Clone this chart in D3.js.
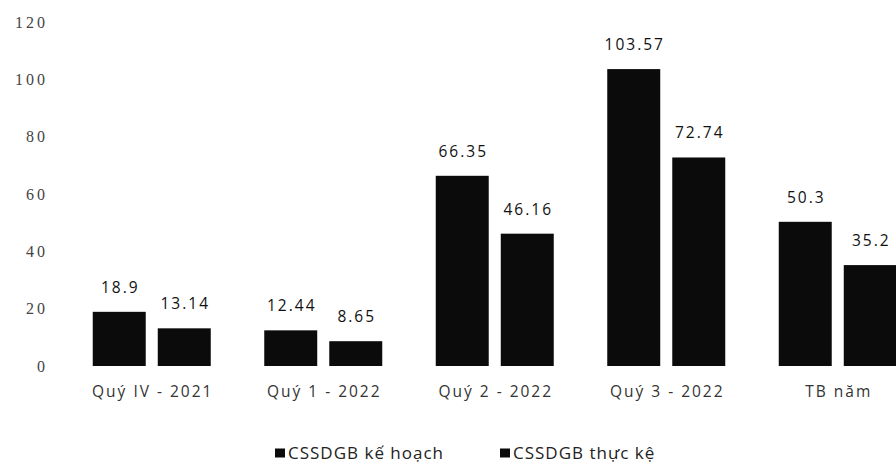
<!DOCTYPE html>
<html>
<head>
<meta charset="utf-8">
<script src="https://cdn.jsdelivr.net/npm/d3@7"></script>
<style>
  body { margin: 0; background: #fff; }
  svg { display: block; }
  .tick-label { font-family: "Liberation Serif", "DejaVu Serif", serif; font-size: 16px; fill: #444; letter-spacing: 3px; }
  .val { font-family: "Open Sans", sans-serif; font-size: 15.5px; fill: #111; letter-spacing: 2px; }
  .cat { font-family: "Open Sans", sans-serif; font-size: 15.5px; fill: #333; letter-spacing: 2px; }
  .leg { font-family: "Open Sans", sans-serif; font-size: 17px; fill: #222; letter-spacing: 1px; }
</style>
</head>
<body>
<div id="chart"></div>
<script>
document.addEventListener("DOMContentLoaded", function () {
    // data
    var categories = ["Quý IV - 2021", "Quý 1 - 2022", "Quý 2 - 2022", "Quý 3 - 2022", "TB năm"];
    var seriesNames = ["CSSDGB kế hoạch", "CSSDGB thực kệ"];
    var keHoach = [18.9, 12.44, 66.35, 103.57, 50.3];
    var thucTe = [13.14, 8.65, 46.16, 72.74, 35.2];
    var keHoachLabels = ["18.9", "12.44", "66.35", "103.57", "50.3"];
    var thucTeLabels = ["13.14", "8.65", "46.16", "72.74", "35.2"];
    var yTicks = [0, 20, 40, 60, 80, 100, 120];

    var svgWidth = 896,
        svgHeight = 467;

    var rows = categories.map(function (c, i) {
        return {
            cat: c,
            values: [
                { key: seriesNames[0], v: keHoach[i], label: keHoachLabels[i] },
                { key: seriesNames[1], v: thucTe[i], label: thucTeLabels[i] }
            ]
        };
    });

    // the last group runs past the right edge in the original
    var x0 = d3.scaleBand().domain(categories).range([66, 923.5]).padding(0);
    var x1 = d3.scaleBand().domain(seriesNames).range([26.75, 144.75]).paddingInner(0.185);
    var y = d3.scaleLinear().domain([0, 120]).range([366, 22]);

    var svg = d3.select("#chart")
        .append("svg")
        .attr("width", svgWidth)
        .attr("height", svgHeight);

    // Y axis labels (no line, no ticks)
    var yAxis = d3.axisLeft(y).tickValues(yTicks).tickSize(0).tickPadding(0);
    var ga = svg.append("g")
        .attr("transform", "translate(48,0)")
        .call(yAxis);
    ga.select(".domain").remove();
    ga.selectAll("text")
        .attr("class", "tick-label")
        .attr("font-family", null)
        .attr("font-size", null)
        .attr("fill", null);

    var groups = svg.selectAll(".grp")
        .data(rows)
        .enter().append("g")
        .attr("class", "grp")
        .attr("transform", d => "translate(" + x0(d.cat) + ",0)");

    groups.selectAll("rect")
        .data(d => d.values)
        .enter().append("rect")
        .attr("x", d => x1(d.key))
        .attr("y", d => y(d.v))
        .attr("width", x1.bandwidth())
        .attr("height", d => y(0) - y(d.v))
        .attr("fill", "#0b0b0b");

    groups.selectAll(".val")
        .data(d => d.values)
        .enter().append("text")
        .attr("class", "val")
        .attr("x", d => x1(d.key) + x1.bandwidth() / 2 + 1)
        .attr("y", d => y(d.v) - 19)
        .attr("text-anchor", "middle")
        .text(d => d.label);

    groups.append("text")
        .attr("class", "cat")
        .attr("x", x0.bandwidth() / 2 + 1)
        .attr("y", 397)
        .attr("text-anchor", "middle")
        .text(d => d.cat);

    // legend
    var legendX = [275, 500];
    var lg = svg.selectAll(".legItem")
        .data(seriesNames)
        .enter().append("g")
        .attr("class", "legItem")
        .attr("transform", (d, i) => "translate(" + legendX[i] + ",453)");

    lg.append("rect")
        .attr("x", 0).attr("y", -4.5)
        .attr("width", 10).attr("height", 9)
        .attr("fill", "#0b0b0b");

    lg.append("text")
        .attr("class", "leg")
        .attr("x", 13)
        .attr("y", 6)
        .text(d => d);
});
</script>
</body>
</html>
